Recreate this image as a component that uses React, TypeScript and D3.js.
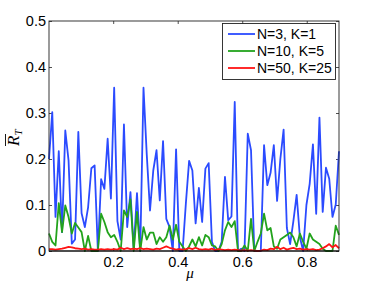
import React, { useEffect, useRef } from "react";
import * as d3 from "d3";

// values, 90 samples each
const blue = [
  0.2, 0.302, 0.074, 0.217, 0.041, 0.262, 0.197, 0.016, 0.025, 0.259,
  0.082, 0.052, 0.095, 0.18, 0.186, 0.0, 0.156, 0.135, 0.244, 0.114,
  0.355, 0.065, 0.025, 0.275, 0.052, 0.128, 0.004, 0.126, 0.0, 0.355,
  0.21, 0.088, 0.175, 0.219, 0.11, 0.239, 0.07, 0.052, 0.0, 0.221,
  0.0, 0.0, 0.103, 0.196, 0.175, 0.06, 0.137, 0.063, 0.179, 0.191,
  0.02, 0.0, 0.0, 0.02, 0.161, 0.067, 0.075, 0.324, 0.0, 0.005,
  0.0, 0.255, 0.219, 0.0, 0.0, 0.0, 0.23, 0.143, 0.17, 0.23,
  0.109, 0.2, 0.264, 0.05, 0.015, 0.065, 0.122, 0.03, 0.0, 0.1,
  0.146, 0.232, 0.081, 0.29, 0.085, 0.181, 0.157, 0.074, 0.101, 0.217,
];
const green = [
  0.038, 0.02, 0.012, 0.104, 0.041, 0.099, 0.074, 0.038, 0.061, 0.051,
  0.041, 0.0, 0.033, 0.0, 0.0, 0.0, 0.081, 0.063, 0.041, 0.03,
  0.035, 0.02, 0.0, 0.088, 0.074, 0.112, 0.0, 0.085, 0.0, 0.052,
  0.025, 0.04, 0.04, 0.015, 0.03, 0.02, 0.03, 0.055, 0.025, 0.057,
  0.02, 0.01, 0.0, 0.01, 0.025, 0.01, 0.03, 0.012, 0.035, 0.03,
  0.012, 0.01, 0.0, 0.015, 0.045, 0.063, 0.052, 0.065, 0.0, 0.0,
  0.012, 0.0, 0.07, 0.0, 0.02, 0.038, 0.081, 0.045, 0.05, 0.01,
  0.005, 0.025, 0.03, 0.035, 0.04, 0.03, 0.01, 0.038, 0.02, 0.005,
  0.038, 0.025, 0.02, 0.015, 0.005, 0.0, 0.0, 0.0, 0.055, 0.035,
];
const red = [
  0.004, 0.004, 0.003, 0.004, 0.005, 0.007, 0.009, 0.008, 0.006, 0.005,
  0.004, 0.005, 0.003, 0.004, 0.003, 0.003, 0.004, 0.003, 0.004, 0.003,
  0.004, 0.003, 0.007, 0.004, 0.006, 0.004, 0.005, 0.004, 0.006, 0.004,
  0.005, 0.004, 0.003, 0.005, 0.004, 0.007, 0.01, 0.007, 0.005, 0.003,
  0.004, 0.003, 0.004, 0.006, 0.004, 0.007, 0.004, 0.003, 0.004, 0.003,
  0.005, 0.002, 0.004, 0.003, 0.002, 0.003, 0.002, 0.003, 0.002, 0.001,
  0.002, 0.001, 0.002, 0.001, 0.0, 0.001, 0.003, 0.002, 0.005, 0.004,
  0.009, 0.004, 0.007, 0.003, 0.005, 0.007, 0.004, 0.005, 0.003, 0.004,
  0.003, 0.004, 0.002, 0.003, 0.006, 0.01, 0.015, 0.008, 0.013, 0.006,
];

const seriesNames = ["N=3, K=1", "N=10, K=5", "N=50, K=25"];
const seriesColors = ["#2b4bff", "#22a31c", "#ff1414"];
const xTicks = [0.2, 0.4, 0.6, 0.8];
const yTicks = [0, 0.1, 0.2, 0.3, 0.4, 0.5];
const muMin = 0.001;
const muMax = 0.9;

export default function App() {
  const ref = useRef<SVGSVGElement>(null);

  useEffect(() => {
    const svg = d3.select(ref.current);
    svg.selectAll("*").remove();

    const width = 374,
      height = 282;
    const margin = { left: 49, right: 35, top: 21, bottom: 31 };
    const iw = width - margin.left - margin.right;
    const ih = height - margin.top - margin.bottom;

    // mu grid, evenly spaced like linspace
    const mu = d3.range(blue.length).map(
      (i) => muMin + (i * (muMax - muMin)) / (blue.length - 1)
    );

    const x = d3.scaleLinear().domain([muMin, muMax]).range([0, iw]);
    const y = d3.scaleLinear().domain([0, 0.5]).range([ih, 0]);

    const g = svg
      .append("g")
      .attr("transform", "translate(" + margin.left + "," + margin.top + ")");

    const fmt = (d: any) => (d === 0 ? "0" : d3.format(".1f")(d));
    const tickFont = "'Liberation Sans', Arial, sans-serif";

    // bottom + top axes, ticks inside
    const xb = g
      .append("g")
      .attr("transform", "translate(0," + ih + ")")
      .call(
        d3.axisBottom(x).tickValues(xTicks).tickSizeInner(-3).tickSizeOuter(0).tickPadding(6).tickFormat(fmt)
      );
    const xt = g
      .append("g")
      .call(d3.axisTop(x).tickValues(xTicks).tickSizeInner(-3).tickSizeOuter(0).tickFormat(() => ""));
    const yl = g
      .append("g")
      .call(
        d3.axisLeft(y).tickValues(yTicks).tickSizeInner(-3).tickSizeOuter(0).tickPadding(3).tickFormat(fmt)
      );
    const yr = g
      .append("g")
      .attr("transform", "translate(" + iw + ",0)")
      .call(d3.axisRight(y).tickValues(yTicks).tickSizeInner(-3).tickSizeOuter(0).tickFormat(() => ""));

    [xb, xt, yl, yr].forEach((a) => {
      a.select(".domain").remove();
      a.selectAll("line").attr("stroke", "#222").attr("stroke-width", 0.8);
      a.selectAll("text")
        .attr("font-family", tickFont)
        .attr("font-size", 14.5)
        .attr("fill", "#000");
    });

    const line = d3
      .line<number>()
      .x((d, i) => x(mu[i]))
      .y((d) => y(d));

    [blue, green, red].forEach((s, k) => {
      g.append("path")
        .datum(s)
        .attr("fill", "none")
        .attr("stroke", seriesColors[k])
        .attr("stroke-width", 1.8)
        .attr("stroke-linejoin", "round")
        .attr("d", line);
    });

    // axes box
    g.append("rect")
      .attr("x", 0)
      .attr("y", 0)
      .attr("width", iw)
      .attr("height", ih)
      .attr("fill", "none")
      .attr("stroke", "#222")
      .attr("stroke-width", 0.9);
    g.append("line")
      .attr("x1", 0)
      .attr("x2", iw)
      .attr("y1", ih)
      .attr("y2", ih)
      .attr("stroke", "#000")
      .attr("stroke-width", 1.2);

    // legend
    const lg = svg.append("g").attr("transform", "translate(222.5,23.5)");
    lg.append("rect")
      .attr("width", 113)
      .attr("height", 56)
      .attr("fill", "#fff")
      .attr("stroke", "#222")
      .attr("stroke-width", 0.9);
    seriesNames.forEach((name, k) => {
      const cy = 10.5 + k * 17;
      lg.append("line")
        .attr("x1", 5.5)
        .attr("x2", 32.5)
        .attr("y1", cy)
        .attr("y2", cy)
        .attr("stroke", seriesColors[k])
        .attr("stroke-width", 1.8);
      lg.append("text")
        .attr("x", 34.5)
        .attr("y", cy)
        .attr("dy", "0.36em")
        .attr("font-family", tickFont)
        .attr("font-size", 14)
        .text(name);
    });

    // y label: R bar, subscript T
    const yg = svg.append("g").attr("transform", "translate(19,139) rotate(-90)");
    yg.append("text")
      .attr("x", -7)
      .attr("y", 0)
      .attr("font-family", "'Liberation Serif', 'DejaVu Serif', serif")
      .attr("font-style", "italic")
      .attr("font-size", 17)
      .text("R")
      .append("tspan")
      .attr("font-size", 11)
      .attr("dy", 3)
      .text("T");
    yg.append("line")
      .attr("x1", -7)
      .attr("x2", 5)
      .attr("y1", -13.5)
      .attr("y2", -13.5)
      .attr("stroke", "#000")
      .attr("stroke-width", 0.9);

    // x label
    svg
      .append("text")
      .attr("x", 190)
      .attr("y", 278)
      .attr("text-anchor", "middle")
      .attr("font-family", "'Liberation Serif', 'DejaVu Serif', serif")
      .attr("font-style", "italic")
      .attr("font-size", 15)
      .text("μ");
  }, []);

  return (
    <svg
      ref={ref}
      width={374}
      height={282}
      style={{ position: "absolute", left: 0, top: 0, background: "#fff" }}
    />
  );
}
